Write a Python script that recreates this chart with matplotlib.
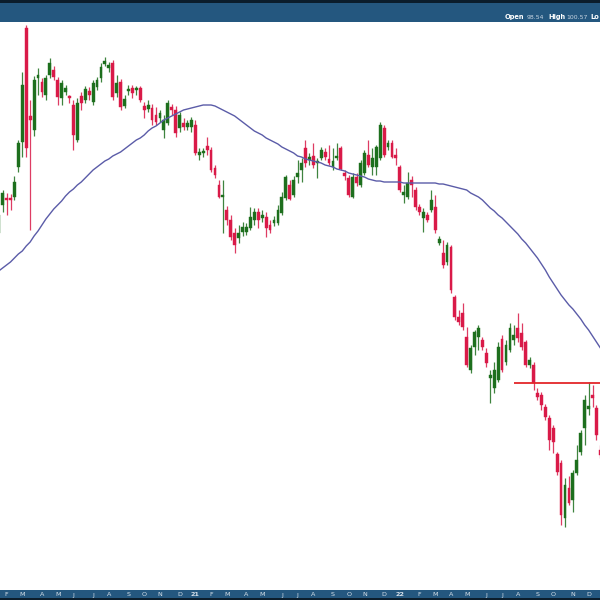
import matplotlib
matplotlib.use("Agg")
import matplotlib.pyplot as plt
import numpy as np
import pandas as pd

# ---- data (weekly bars) ----
start_week = "2020-01-20"
opens = [143.4,149.0,150.4,150.4,150.6,156.6,161.6,184.4,166.8,164.0,174.4,173.6,171.0,175.0,176.0,174.0,170.4,171.6,170.8,169.0,
         162.0,170.8,170.0,171.8,169.6,172.6,174.4,177.2,176.4,177.4,171.4,173.6,168.8,171.8,172.4,172.0,172.4,168.8,168.2,168.4,
         167.0,166.4,164.0,165.4,168.6,168.0,164.4,165.4,164.6,164.6,165.0,159.0,159.4,160.8,160.0,156.4,153.0,150.6,148.0,146.0,
         143.4,142.4,143.6,143.6,144.4,146.0,147.6,146.4,146.6,145.0,145.4,145.4,147.4,150.4,153.0,151.0,154.6,156.0,160.4,158.0,
         158.8,157.4,158.4,159.6,158.2,156.6,158.4,160.4,155.4,154.4,150.6,154.6,153.0,155.4,159.0,156.6,156.6,158.4,164.4,160.6,
         161.4,159.0,156.6,151.0,150.6,154.0,152.0,148.6,146.4,147.0,148.0,148.6,141.4,139.4,137.6,140.6,130.6,126.6,127.4,122.6,
         116.0,120.6,122.6,122.0,119.4,114.4,112.4,114.0,122.2,117.6,120.0,122.0,124.4,123.4,121.6,117.0,117.0,111.4,111.0,108.6,
         106.4,104.4,99.2,97.4,86.4,92.4,90.0,95.4,99.6,104.4,108.2,111.0,108.4,100.0]
highs = [148.0,152.0,151.4,151.2,154.8,162.0,175.6,185.0,170.0,174.8,176.4,174.4,175.0,178.4,176.8,174.6,174.0,173.0,171.0,170.0,
         170.4,171.6,172.8,172.6,174.0,174.6,177.4,178.6,177.6,178.0,175.0,174.2,171.0,173.0,173.0,172.8,172.8,169.6,170.0,169.2,
         168.6,168.0,167.0,170.0,169.2,168.8,167.6,166.4,166.0,166.6,166.0,160.4,160.4,162.6,160.6,157.0,154.0,154.0,148.8,147.0,
         144.4,145.0,145.6,145.4,148.6,148.4,148.4,148.0,147.6,146.0,146.8,149.0,151.6,155.0,154.0,154.8,158.0,158.4,162.0,159.4,
         161.4,158.4,160.6,160.4,161.0,160.4,161.4,160.8,156.0,155.0,155.4,155.4,158.0,160.0,162.0,160.4,161.0,165.6,165.0,162.0,
         162.0,160.4,157.0,153.0,155.6,154.8,152.6,149.2,148.4,147.6,152.0,151.0,142.8,142.0,141.6,141.0,131.0,128.0,129.4,124.6,
         121.0,124.0,125.0,122.6,120.4,116.0,117.6,121.6,123.0,122.0,125.4,125.0,127.4,125.4,122.0,118.6,117.6,112.4,111.6,109.2,
         107.0,105.0,99.6,98.0,94.4,94.8,96.0,101.0,104.0,111.0,113.6,113.0,109.0,101.0]
lows = [142.8,147.6,147.0,148.0,150.0,155.6,158.6,158.6,144.0,162.8,171.0,170.6,170.0,174.4,174.0,169.0,169.0,171.0,169.4,160.0,
        161.6,168.0,169.4,170.0,169.0,172.0,173.6,176.8,175.6,170.0,170.6,168.0,168.4,171.0,170.4,171.0,169.6,166.4,167.6,165.0,
        165.0,165.6,162.4,165.0,167.0,162.6,163.6,164.0,164.0,163.6,159.0,158.0,158.6,159.0,155.6,154.4,150.4,143.4,145.0,142.0,
        139.4,141.4,142.8,143.0,144.0,145.0,144.4,145.6,142.6,143.4,144.8,145.0,147.0,150.0,150.0,150.6,153.4,153.6,156.6,157.0,
        156.4,154.4,158.0,158.0,157.0,156.0,158.0,156.0,154.0,150.6,150.4,152.8,152.6,155.0,156.6,155.0,155.0,158.0,158.6,160.0,
        158.4,157.0,151.6,149.4,150.2,150.6,148.0,147.0,143.6,145.6,147.6,143.4,141.0,136.4,137.0,131.4,126.0,125.0,124.0,116.6,
        115.4,119.0,120.0,120.0,116.6,109.4,111.4,113.6,115.6,117.0,119.6,121.0,121.6,120.0,116.6,116.4,112.0,110.0,108.0,106.0,
        100.0,99.4,95.0,85.0,84.6,89.0,87.6,95.0,99.0,101.0,107.0,108.6,102.0,98.4]
closes = [147.0,151.4,150.0,150.0,153.6,161.4,173.0,160.4,166.0,174.0,175.0,171.6,174.4,177.4,174.6,170.6,173.4,172.4,170.4,163.0,
          169.4,169.4,172.2,171.0,173.4,174.0,176.6,177.8,177.0,170.6,173.4,168.6,170.2,172.2,171.4,172.4,170.0,168.0,169.0,166.0,
          165.6,167.4,166.0,169.4,168.0,163.4,167.0,164.6,165.4,166.0,159.4,159.6,159.8,160.0,156.0,155.0,150.6,150.8,146.0,142.6,
          141.0,143.4,144.6,144.6,146.6,147.6,146.0,147.0,144.4,144.0,146.0,148.0,150.6,154.6,150.2,154.0,155.4,157.4,157.4,158.6,
          157.0,157.8,160.0,158.6,157.4,157.8,158.6,156.2,154.8,151.0,154.6,153.4,157.4,159.4,157.0,158.4,160.6,165.0,159.0,161.4,
          158.6,158.4,152.0,151.6,153.4,153.0,148.6,147.6,147.6,146.0,150.0,144.0,142.2,137.0,141.0,132.0,126.6,125.6,124.6,117.0,
          120.4,123.6,124.4,120.6,117.4,115.0,116.0,120.6,116.0,121.0,124.4,123.0,122.4,120.6,117.0,118.0,113.4,110.6,109.0,106.6,
          102.0,101.6,95.6,87.0,93.0,89.4,95.4,98.0,103.4,110.0,108.8,110.4,103.0,99.0]
ma40 = [135.8,136.4,137.0,137.6,138.4,139.2,139.8,140.8,141.6,142.8,143.8,145.0,146.2,147.2,148.2,149.0,149.8,150.8,151.6,152.2,
        153.0,153.6,154.4,155.2,156.0,156.6,157.2,157.8,158.2,158.8,159.2,159.6,160.2,160.8,161.4,162.0,162.4,163.0,163.8,164.4,
        164.8,165.4,166.0,166.4,166.8,167.2,167.6,168.0,168.2,168.4,168.6,168.8,169.0,169.0,169.0,168.8,168.4,168.0,167.6,167.2,
        166.8,166.2,165.6,165.0,164.4,163.8,163.4,163.0,162.4,162.0,161.6,161.2,160.6,160.2,159.8,159.4,158.8,158.6,158.2,158.0,
        157.8,157.6,157.4,157.0,156.8,156.6,156.2,156.0,155.8,155.4,155.2,155.0,154.8,154.6,154.2,154.0,153.8,153.8,153.6,153.6,
        153.6,153.6,153.6,153.4,153.4,153.4,153.4,153.4,153.4,153.4,153.4,153.4,153.2,153.2,153.0,152.8,152.6,152.4,152.2,152.0,
        151.4,151.0,150.6,150.0,149.2,148.4,147.8,147.0,146.4,145.6,144.8,144.0,143.2,142.2,141.4,140.4,139.4,138.4,137.2,136.0,
        134.6,133.4,132.2,131.0,130.0,129.0,128.2,127.2,126.2,125.0,124.0,122.8,121.6,120.4]
resistance_level = 113.4
resistance_start = "2022-07-25"
header_labels = ["Open", "98.54", "High", "100.57", "Lo"]

# ---- figure ----
W, H = 600, 600
fig = plt.figure(figsize=(6, 6), dpi=100)
fig.patch.set_facecolor("white")

top_band = 22
bot_band = 10
ax = fig.add_axes([0, bot_band / H, 1, (H - top_band - bot_band) / H])
ax.set_facecolor("white")
for s in ax.spines.values():
    s.set_visible(False)
ax.set_xticks([]); ax.set_yticks([])

n = len(closes)
dates = pd.date_range(start_week, periods=n, freq="W-MON")
idx = np.arange(n)
o = np.array(opens); h = np.array(highs); l = np.array(lows); c = np.array(closes)
up = c >= o
green = "#1d6f1d"
red = "#d91a48"
cols = np.where(up, green, red)

ax.vlines(idx, l, h, colors=cols, linewidth=0.9, alpha=0.85, zorder=2)
ax.bar(idx, np.maximum(np.abs(c - o), 0.3), bottom=np.minimum(o, c), width=0.72,
       color=cols, edgecolor=cols, linewidth=0.3, zorder=3)

ax.plot(idx, ma40, color="#5b5ca8", linewidth=1.0, zorder=4)

rs = int(np.searchsorted(dates, pd.Timestamp(resistance_start)))
ax.hlines(resistance_level, rs, n + 2, color="#e3262a", linewidth=1.3, zorder=5)

ax.set_xlim(0.33, 152.9)
ax.set_ylim(72.0, 185.6)

# ---- top band ----
band = "#24577f"
fig.patches.append(plt.Rectangle((0, 1 - top_band / H), 1, top_band / H, transform=fig.transFigure,
                                 facecolor=band, edgecolor="none", zorder=0))
fig.patches.append(plt.Rectangle((0, 1 - 3 / H), 1, 3 / H, transform=fig.transFigure,
                                 facecolor="#0b1d2c", edgecolor="none", zorder=1))
hx = [505, 527, 548, 566, 590]
for k, (lab, x) in enumerate(zip(header_labels, hx)):
    is_key = k % 2 == 0
    fig.text(x / W, 1 - 19 / H, lab, color="white" if is_key else "#c9d6e3",
             fontsize=4.8 if is_key else 4.4, fontweight="bold" if is_key else "normal",
             ha="left", va="baseline")

# ---- bottom band with month labels ----
fig.patches.append(plt.Rectangle((0, 0), 1, bot_band / H, transform=fig.transFigure,
                                 facecolor=band, edgecolor="none", zorder=0))
fig.patches.append(plt.Rectangle((0, 0), 1, 2 / H, transform=fig.transFigure,
                                 facecolor="#0b1d2c", edgecolor="none", zorder=1))
for i in range(1, n):
    if dates[i].month != dates[i - 1].month:
        d = dates[i]
        lab = d.strftime("%y") if d.month == 1 else d.strftime("%b")[0]
        xd = ax.transData.transform((i, 0))[0] / W
        if 0 < xd < 1:
            fig.text(xd, 5 / H, lab, color="#d7e1ea", fontsize=4.6,
                     fontweight="bold" if d.month == 1 else "normal", ha="center", va="center")

fig.savefig("out.png", dpi=100, facecolor="white")
